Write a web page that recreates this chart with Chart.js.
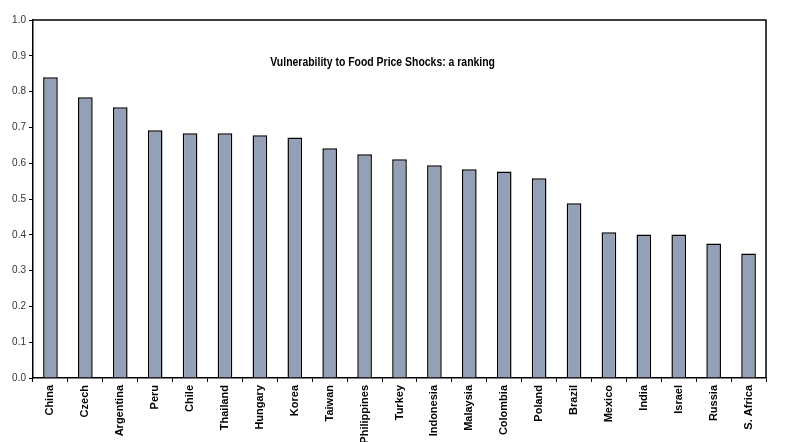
<!DOCTYPE html>
<html>
<head>
<meta charset="utf-8">
<script src="https://cdn.jsdelivr.net/npm/chart.js@4"></script>
<style>
  html, body { margin: 0; padding: 0; background: #fff; }
  #wrap { width: 787px; height: 442px; }
</style>
</head>
<body>
<div id="wrap"><canvas id="chart" width="787" height="442"></canvas></div>
<script>
const countries = ['China', 'Czech', 'Argentina', 'Peru', 'Chile', 'Thailand', 'Hungary', 'Korea', 'Taiwan', 'Philippines', 'Turkey',
  'Indonesia', 'Malaysia', 'Colombia', 'Poland', 'Brazil', 'Mexico', 'India', 'Israel', 'Russia', 'S. Africa'];
const vulnerability = [0.840, 0.784, 0.756, 0.692, 0.684, 0.684, 0.678, 0.672, 0.642, 0.625, 0.611,
  0.594, 0.583, 0.577, 0.558, 0.488, 0.407, 0.401, 0.401, 0.376, 0.348];
const yTicks = [0, 0.1, 0.2, 0.3, 0.4, 0.5, 0.6, 0.7, 0.8, 0.9, 1.0];
const chartTitle = 'Vulnerability to Food Price Shocks: a ranking';

// frame on top/right plus the (condensed) title inside the plot
const frameAndTitle = {
  id: 'frameAndTitle',
  afterDraw(chart) {
    const a = chart.chartArea;
    const c = chart.ctx;
    c.save();
    c.strokeStyle = '#000';
    c.lineWidth = 1.5;
    c.beginPath();
    c.moveTo(a.left, a.top);
    c.lineTo(a.right, a.top);
    c.lineTo(a.right, a.bottom);
    c.stroke();
    const cx = a.left + (a.right - a.left) * 0.477;
    c.translate(cx, a.top + 43);
    c.scale(0.87, 1);
    c.fillStyle = '#000';
    c.font = 'bold 12px "Liberation Sans", Arial, sans-serif';
    c.textAlign = 'center';
    c.textBaseline = 'middle';
    c.fillText(chartTitle, 0, 0);
    c.restore();
  }
};

const ctx = document.getElementById('chart');
new Chart(ctx, {
  type: 'bar',
  data: {
    labels: countries,
    datasets: [{
      data: vulnerability,
      backgroundColor: '#94A0B6',
      borderColor: '#000',
      borderWidth: 1.5,
      categoryPercentage: 1,
      barPercentage: 0.42
    }]
  },
  options: {
    responsive: false,
    animation: false,
    layout: { padding: { top: 20, right: 21, left: 0, bottom: 0 } },
    plugins: { legend: { display: false }, tooltip: { enabled: false } },
    scales: {
      y: {
        min: 0,
        max: 1,
        afterBuildTicks(axis) { axis.ticks = yTicks.map(v => ({ value: v })); },
        afterFit(axis) { axis.width = 33; },
        border: { color: '#000', width: 1.5 },
        grid: { drawOnChartArea: false, tickLength: 4, color: '#000', lineWidth: 1 },
        ticks: {
          color: '#333',
          padding: 3,
          font: { family: 'Arial, "Liberation Sans", sans-serif', size: 10 },
          callback: v => v.toFixed(1)
        }
      },
      x: {
        afterFit(axis) { axis.height = 64; },
        border: { color: '#000', width: 1.5 },
        grid: { drawOnChartArea: false, tickLength: 4, color: '#000', lineWidth: 1, offset: true },
        ticks: {
          color: '#000',
          padding: 3,
          minRotation: 90,
          maxRotation: 90,
          autoSkip: false,
          font: { family: 'Arial, "Liberation Sans", sans-serif', size: 11, weight: 'bold' }
        }
      }
    }
  },
  plugins: [frameAndTitle]
});
</script>
</body>
</html>
